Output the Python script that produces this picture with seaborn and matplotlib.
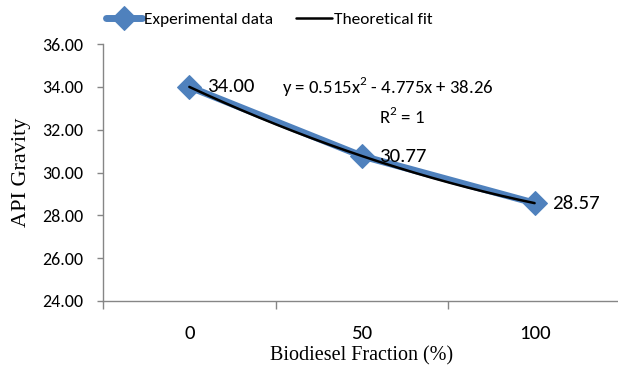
import numpy as np
import pandas as pd
import matplotlib
matplotlib.use("Agg")
import matplotlib.pyplot as plt
import seaborn as sns
from matplotlib.ticker import FixedLocator
from matplotlib import font_manager

categories = ["0", "50", "100"]
api_gravity = [34.00, 30.77, 28.57]
fit_coeffs = [0.515, -4.775, 38.26]  # y = a x^2 + b x + c, x = category index (1..3)
y_ticks = [24, 26, 28, 30, 32, 34, 36]

sns.set_theme(style="white")

names = {f.name for f in font_manager.fontManager.ttflist}
sans = "DejaVu Sans"
for cand in ["Liberation Sans Narrow", "Carlito", "Roboto Condensed", "Open Sans Condensed", "Lato"]:
    if cand in names:
        sans = cand
        break
plt.rcParams["font.family"] = [sans, "DejaVu Sans"]
plt.rcParams["text.color"] = "black"
plt.rcParams["xtick.color"] = "black"
plt.rcParams["ytick.color"] = "black"
plt.rcParams["axes.labelcolor"] = "black"
plt.rcParams["mathtext.fontset"] = "custom"
plt.rcParams["mathtext.rm"] = sans

fig = plt.figure(figsize=(6.18, 3.8), dpi=100)
ax = fig.add_axes([0.1667, 0.208, 0.838, 0.676])

df = pd.DataFrame({"pos": np.arange(len(categories)), "api": api_gravity})
blue = "#4F81BD"
sns.lineplot(data=df, x="pos", y="api", ax=ax, color=blue, lw=5,
             marker="D", markersize=12, markeredgecolor=blue, label="Experimental data",
             legend=False)

xs = np.linspace(0, len(categories) - 1, 200)
xi = xs + 1
fit = fit_coeffs[0] * xi**2 + fit_coeffs[1] * xi + fit_coeffs[2]
sns.lineplot(x=xs, y=fit, ax=ax, color="black", lw=1.8, label="Theoretical fit", legend=False)

ax.set_xlim(-0.5, len(categories) - 0.5)
ax.set_ylim(24, 36)
ax.set_yticks(y_ticks)
ax.set_yticklabels([f"{v:.2f}" for v in y_ticks], fontsize=13)
ax.set_xticks(range(len(categories)))
ax.set_xticklabels(categories, fontsize=15)
ax.xaxis.set_minor_locator(FixedLocator(np.arange(-0.5, len(categories), 1.0)))
ax.tick_params(axis="x", which="major", length=0, pad=17)
ax.tick_params(axis="x", which="minor", length=6, color="#868686", width=1, direction="out", bottom=True)
ax.tick_params(axis="y", which="major", length=4.3, color="#868686", width=1, direction="out", left=True, pad=10)

for s in ["top", "right"]:
    ax.spines[s].set_visible(False)
for s in ["left", "bottom"]:
    ax.spines[s].set_color("#868686")
    ax.spines[s].set_linewidth(1)

ax.set_xlabel("Biodiesel Fraction (%)", family="Liberation Serif", fontsize=14.5, labelpad=3)
ax.set_ylabel("API Gravity", family="Liberation Serif", fontsize=16, labelpad=8)

for i, v in enumerate(api_gravity):
    ax.annotate(f"{v:.2f}", (i, v), xytext=(12.5, 0), textcoords="offset points",
                fontsize=15, va="center", ha="left")

ax.text(0.55, 0.833, "y = 0.515x$^2$ - 4.775x + 38.26", transform=ax.transAxes,
        fontsize=13.5, ha="center", va="center")
ax.text(0.577, 0.716, "R$^2$ = 1", transform=ax.transAxes, fontsize=13.5, ha="center", va="center")

leg = ax.legend(loc="lower left", bbox_to_anchor=(-0.015, 1.025), ncol=2, frameon=False,
                fontsize=12.5, handlelength=2.1, handletextpad=0.1, columnspacing=1.3,
                borderaxespad=0.2)

fig.savefig("out.png", dpi=100)
